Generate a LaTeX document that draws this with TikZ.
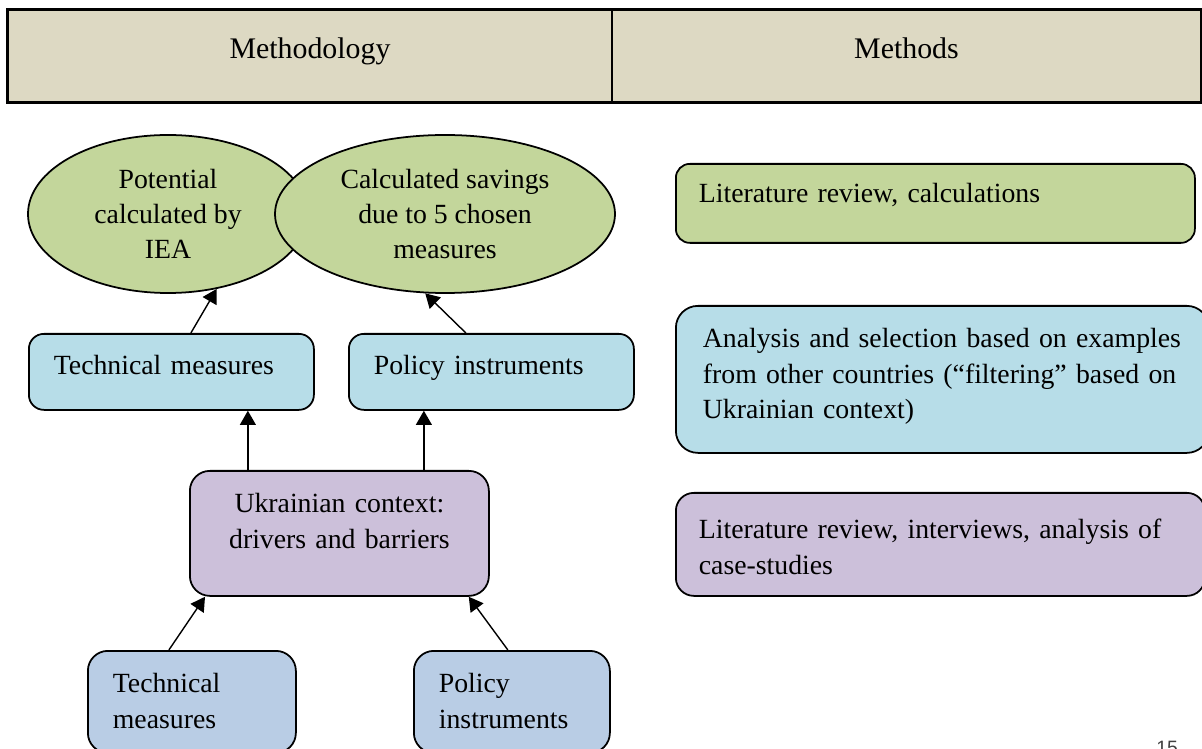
\documentclass[tikz,border=0pt]{standalone}
\usepackage{fontspec}
\setmainfont{Liberation Serif}
\setsansfont{Liberation Sans}
\usetikzlibrary{arrows.meta,shapes.geometric}

\definecolor{hdrbeige}{HTML}{DDD9C3}
\definecolor{goalgreen}{HTML}{C3D69B}
\definecolor{stepcyan}{HTML}{B7DDE8}
\definecolor{ctxlilac}{HTML}{CCC0DA}
\definecolor{inblue}{HTML}{B9CDE5}

\begin{document}
\begin{tikzpicture}
	 [x=0.2mm,y=-0.2mm,every node/.style={font=\fontsize{15.8}{20}\selectfont},
	  hdr/.style={draw,line width=0.8pt,fill=hdrbeige,minimum height=1.84cm,inner sep=0pt,
	    text height=0.5cm,text depth=0.38cm,font=\fontsize{17}{20}\selectfont},
	  goal/.style={ellipse,draw,line width=1pt,fill=goalgreen,align=center,inner sep=-20pt,minimum height=3.16cm},
	  rbox/.style={draw,line width=1pt,anchor=north west,align=left,inner ysep=0pt,inner xsep=0.5cm},
	  arr/.style={-{Triangle[length=8pt,width=9pt]},line width=0.8pt}]

  \useasboundingbox (0,0) rectangle (1202,749);
  \clip (0,0) rectangle (1202,749);

  \node[hdr,minimum width=12.08cm] (mthy) at (310,56) {Methodology};
    \node[hdr,minimum width=11.78cm] (mths) at (906.5,56) {Methods};
    \draw[line width=1.6pt] (mthy.north west) rectangle (mths.south east);

  \node[goal,minimum width=5.6cm] (pot) at (168,214) {Potential\\calculated by\\IEA};
    \node[goal,minimum width=6.8cm] (sav) at (445,214) {Calculated savings\\due to 5 chosen\\measures};

  \node[rbox,fill=stepcyan,rounded corners=0.3cm,text width=4.7cm,text height=0.82cm,text depth=0.7cm] (techmid) at (28,333) {Technical measures};
    \node[rbox,fill=stepcyan,rounded corners=0.3cm,text width=4.7cm,text height=0.82cm,text depth=0.7cm] (policymid) at (348,333) {Policy instruments};
    \node[rbox,fill=ctxlilac,rounded corners=0.4cm,align=center,text width=4.98cm,text height=0.84cm,text depth=1.66cm] (ukr) at (189,470) {Ukrainian context:\\drivers and barriers};
    \node[rbox,fill=inblue,rounded corners=0.4cm,text width=3.16cm,text height=0.84cm,text depth=1.2cm] (techin) at (87,650) {Technical\\measures};
    \node[rbox,fill=inblue,rounded corners=0.4cm,text width=2.92cm,text height=0.84cm,text depth=1.2cm] (policyin) at (413,650) {Policy\\instruments};

  \node[rbox,fill=goalgreen,rounded corners=0.28cm,inner xsep=0.46cm,text width=9.46cm,text height=0.78cm,text depth=0.8cm] (mcalc) at (675,163) {Literature review, calculations};
    \node[rbox,fill=stepcyan,rounded corners=0.44cm,inner xsep=0.54cm,text width=9.58cm,text height=0.84cm,text depth=2.1cm] (mselect) at (675,305)
      {\makebox[\linewidth][s]{Analysis and selection based on examples}\\\makebox[\linewidth][s]{from other countries (“filtering” based on}\\Ukrainian context)};
    \node[rbox,fill=ctxlilac,rounded corners=0.36cm,inner xsep=0.46cm,text width=9.66cm,text height=0.92cm,text depth=1.14cm] (mctx) at (675,492)
      {\makebox[\linewidth][s]{Literature review, interviews, analysis of}\\case-studies};

  \node[font=\sffamily\fontsize{11}{13}\selectfont,text=black!75,inner sep=0pt,anchor=north] (pg) at (1167,741) {15};

  \draw[arr] ([xshift=0.39cm]techmid.north) -- (pot.-57);
    \draw[arr] ([xshift=-0.51cm]policymid.north) -- (sav.-104);
    \foreach \dx/\tgt in {-1.83cm/techmid,1.69cm/policymid}
    \draw[arr] ([xshift=\dx]ukr.north) -- ([xshift=\dx]ukr.north |- \tgt.south);
    \draw[arr] ([xshift=-0.46cm]techin.north) -- ([xshift=0.32cm]ukr.south west);
    \draw[arr] ([xshift=-0.08cm]policyin.north) -- ([xshift=-0.42cm]ukr.south east);

\end{tikzpicture}
\end{document}
